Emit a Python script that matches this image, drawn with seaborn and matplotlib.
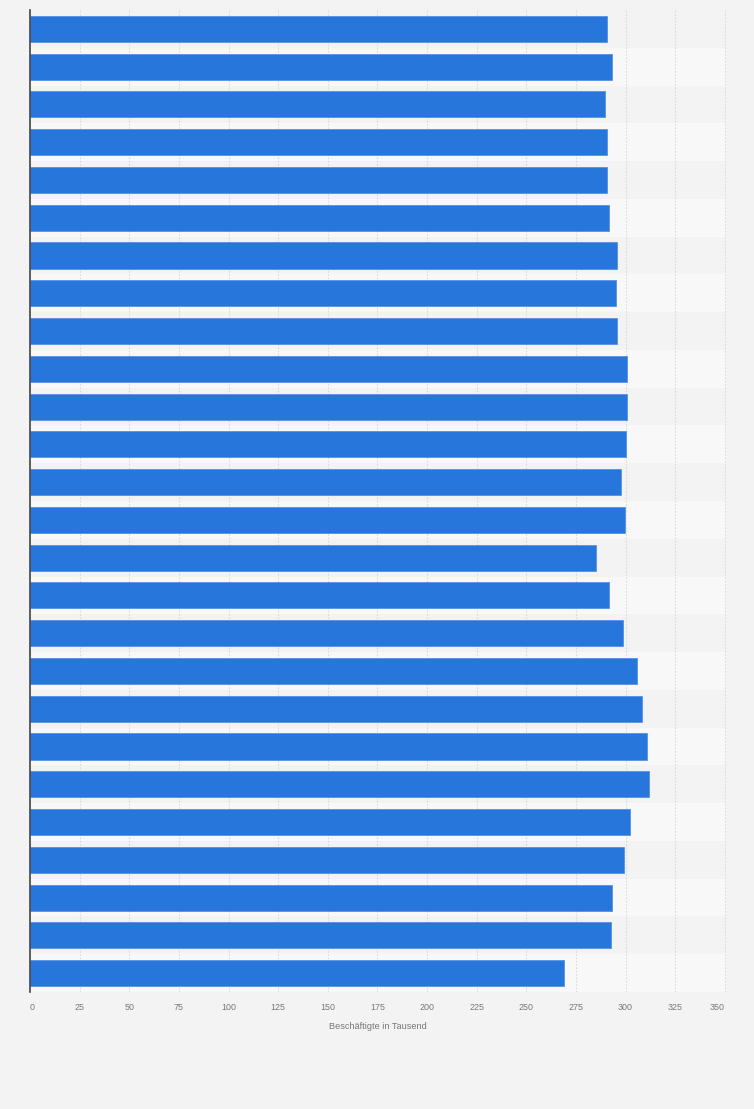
import matplotlib
matplotlib.use("Agg")
import matplotlib.pyplot as plt
import seaborn as sns
import pandas as pd

# Data (thousands of employees), top to bottom
years = [str(y) for y in range(1995, 2021)]
values = [290.6, 293.3, 289.6, 290.6, 290.6, 291.7, 295.6, 295.1, 295.6,
          300.8, 300.8, 300.1, 297.8, 299.6, 285.2, 291.7, 298.8,
          305.8, 308.3, 310.9, 311.9, 302.3, 299.3, 293.3, 292.6, 268.9]
x_ticks = [0, 25, 50, 75, 100, 125, 150, 175, 200, 225, 250, 275, 300, 325, 350]
x_label = "Beschäftigte in Tausend"

df = pd.DataFrame({"year": years, "value": values})

sns.set_theme(style="white")
plt.rcParams["font.family"] = ["Liberation Sans", "DejaVu Sans"]

W, H = 754, 1109
fig = plt.figure(figsize=(W / 100, H / 100), dpi=100)
fig.patch.set_facecolor("#f3f3f3")
ax = fig.add_axes([30 / W, 1 - 992 / H, (726 - 30) / W, (992 - 10) / H])
ax.set_facecolor("#f3f3f3")

# alternating row stripes
for i in range(len(years)):
    if i % 2 == 1:
        ax.axhspan(i - 0.5, i + 0.5, color="#f8f8f8", zorder=0, lw=0)

sns.barplot(data=df, x="value", y="year", orient="h", order=years,
            color="#2776db", saturation=1, width=0.69,
            edgecolor="#4a8ae2", linewidth=0.5, ax=ax, zorder=2)

ax.set_xlim(0, 350.6)
ax.set_ylim(len(years) - 0.5, -0.5)
ax.set_xticks(x_ticks)
ax.set_xticklabels([str(t) for t in x_ticks])
ax.set_yticks([])
ax.set_ylabel("")
ax.set_xlabel(x_label, fontsize=6.6, color="#777777", labelpad=7)
ax.tick_params(axis="x", length=0, pad=7.8, labelsize=6.4, labelcolor="#777777")
labels = ax.get_xticklabels()
labels[0].set_ha("left")
labels[-1].set_ha("right")

ax.grid(axis="x", color="#dadada", linestyle=(0, (1.5, 1.5)), linewidth=0.8, zorder=1)
ax.set_axisbelow(True)

for s in ["top", "right", "bottom"]:
    ax.spines[s].set_visible(False)
ax.spines["left"].set_color("#444444")
ax.spines["left"].set_linewidth(1.2)
ax.spines["left"].set_zorder(3)

fig.savefig("out.png", dpi=100, facecolor=fig.get_facecolor())
